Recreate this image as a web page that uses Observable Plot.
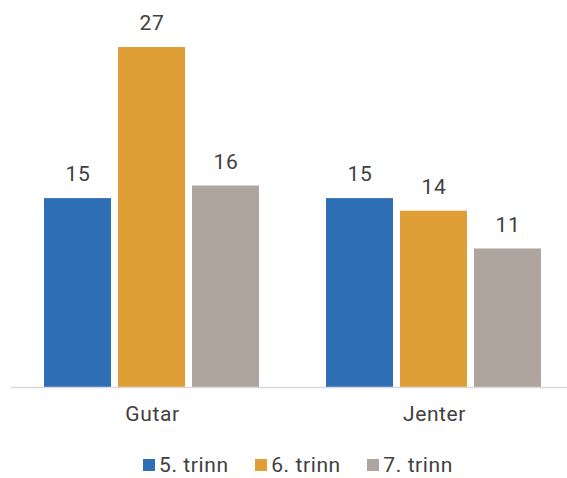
<!DOCTYPE html>
<html>
<head>
<meta charset="utf-8">
<script src="https://cdn.jsdelivr.net/npm/d3@7"></script>
<script src="https://cdn.jsdelivr.net/npm/@observablehq/plot@0.6"></script>
<style>
  html, body { margin: 0; padding: 0; background: #fff; }
  body { position: relative; width: 567px; height: 478px; overflow: hidden; }
  #chart { width: 567px; overflow: hidden; }
  .legend { position: absolute; left: 143px; top: 457px; display: flex; align-items: center; font-family: Roboto, sans-serif; font-size: 21px; line-height: 16px; height: 16px; letter-spacing: 0.6px; color: #404040; }
  .legend .item { display: flex; align-items: center; margin-right: 26.5px; }
  .legend .sw { width: 12px; height: 12px; margin-right: 4px; }
  svg text { letter-spacing: 0.6px; }
</style>
</head>
<body>
<div id="chart"></div>
<script>
const groups = ["Gutar", "Jenter"];
const series = ["5. trinn", "6. trinn", "7. trinn"];
const colors = ["#2e6eb5", "#e09e36", "#aea59e"];
const gutar = [15, 27, 16];
const jenter = [15, 14, 11];

const data = [];
series.forEach((s, i) => {
  data.push({group: groups[0], series: s, value: gutar[i]});
  data.push({group: groups[1], series: s, value: jenter[i]});
});

const plot = Plot.plot({
  width: 567,
  height: 440,
  marginTop: 47,
  marginBottom: 53,
  marginLeft: 10,
  marginRight: -8,
  style: {fontFamily: "Roboto, sans-serif", fontSize: "21px", color: "#404040", overflow: "hidden"},
  fx: {domain: groups, padding: 0, label: null, tickSize: 0, tickPadding: 19, axis: "bottom"},
  x: {domain: series, paddingInner: 0.09, paddingOuter: 0.45, axis: null},
  y: {domain: [0, 27], axis: null},
  color: {domain: series, range: colors},
  marks: [
    Plot.barY(data, {fx: "group", x: "series", y: "value", fill: "series"}),
    Plot.ruleY([0], {stroke: "#d9d9d9", strokeWidth: 1.5}),
    Plot.text(data, {fx: "group", x: "series", y: "value", text: d => String(d.value), dy: -24, fill: "#404040", fontSize: 21})
  ]
});
document.getElementById("chart").appendChild(plot);

const legend = document.createElement("div");
legend.className = "legend";
series.forEach((s, i) => {
  const item = document.createElement("div");
  item.className = "item";
  const sw = document.createElement("span");
  sw.className = "sw";
  sw.style.background = colors[i];
  const label = document.createElement("span");
  label.textContent = s;
  item.appendChild(sw);
  item.appendChild(label);
  legend.appendChild(item);
});
document.body.appendChild(legend);
</script>
</body>
</html>
